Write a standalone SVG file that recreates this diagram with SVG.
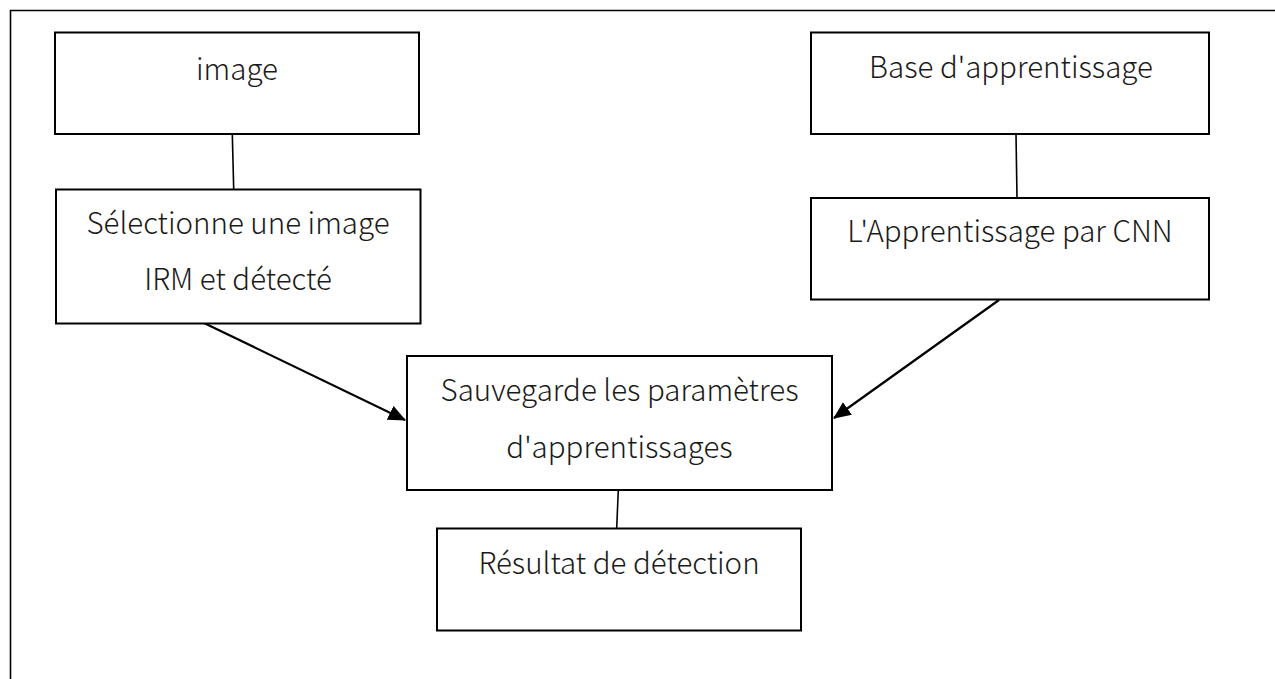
<svg xmlns="http://www.w3.org/2000/svg" width="1275" height="679" viewBox="0 0 1275 679">
<defs>
<style>
.box{fill:#fff;stroke:#000;stroke-width:2}
.t{font-family:"Noto Sans CJK JP","Noto Sans",sans-serif;font-size:29.5px;font-weight:300;fill:#1a1a1a;text-anchor:middle}
.ln{stroke:#000;stroke-width:1.6;fill:none}
.ar{stroke:#000;stroke-width:2.2;fill:none;marker-end:url(#ah)}
</style>
<marker id="ah" markerWidth="8" markerHeight="7" refX="7.5" refY="3.5" orient="auto" markerUnits="strokeWidth">
<path d="M0,0 L8,3.5 L0,7 Z" fill="#000"/>
</marker>
</defs>
<rect width="1275" height="679" fill="#fff"/>
<path d="M10.5,679 V10.5 H1275" fill="none" stroke="#000" stroke-width="1.6"/>
<g id="connectors">
<line class="ln" x1="232.3" y1="134" x2="233.7" y2="189"/>
<line class="ln" x1="1016" y1="134" x2="1017" y2="198"/>
<line class="ln" x1="618.3" y1="490" x2="616.7" y2="528"/>
<line class="ar" x1="204" y1="323" x2="405" y2="420"/>
<line class="ar" x1="999" y1="300" x2="834" y2="418"/>
</g>
<g id="n-image">
<rect class="box" x="55" y="32.5" width="364" height="101.5"/>
<text class="t" x="237" y="80">image</text>
</g>
<g id="n-select">
<rect class="box" x="56" y="189.5" width="364.5" height="134"/>
<text class="t" x="238" y="234">Sélectionne une image</text>
<text class="t" x="238" y="290">IRM et détecté</text>
</g>
<g id="n-base">
<rect class="box" x="811" y="32.5" width="398" height="101.5"/>
<text class="t" x="1011" y="78">Base d'apprentissage</text>
</g>
<g id="n-cnn">
<rect class="box" x="811" y="198" width="398" height="101.5"/>
<text class="t" x="1010" y="242">L'Apprentissage par CNN</text>
</g>
<g id="n-save">
<rect class="box" x="407" y="356" width="425" height="134"/>
<text class="t" x="619.5" y="401">Sauvegarde les paramètres</text>
<text class="t" x="619.5" y="458">d'apprentissages</text>
</g>
<g id="n-result">
<rect class="box" x="437" y="528.5" width="364" height="102"/>
<text class="t" x="619" y="574">Résultat de détection</text>
</g>
</svg>
